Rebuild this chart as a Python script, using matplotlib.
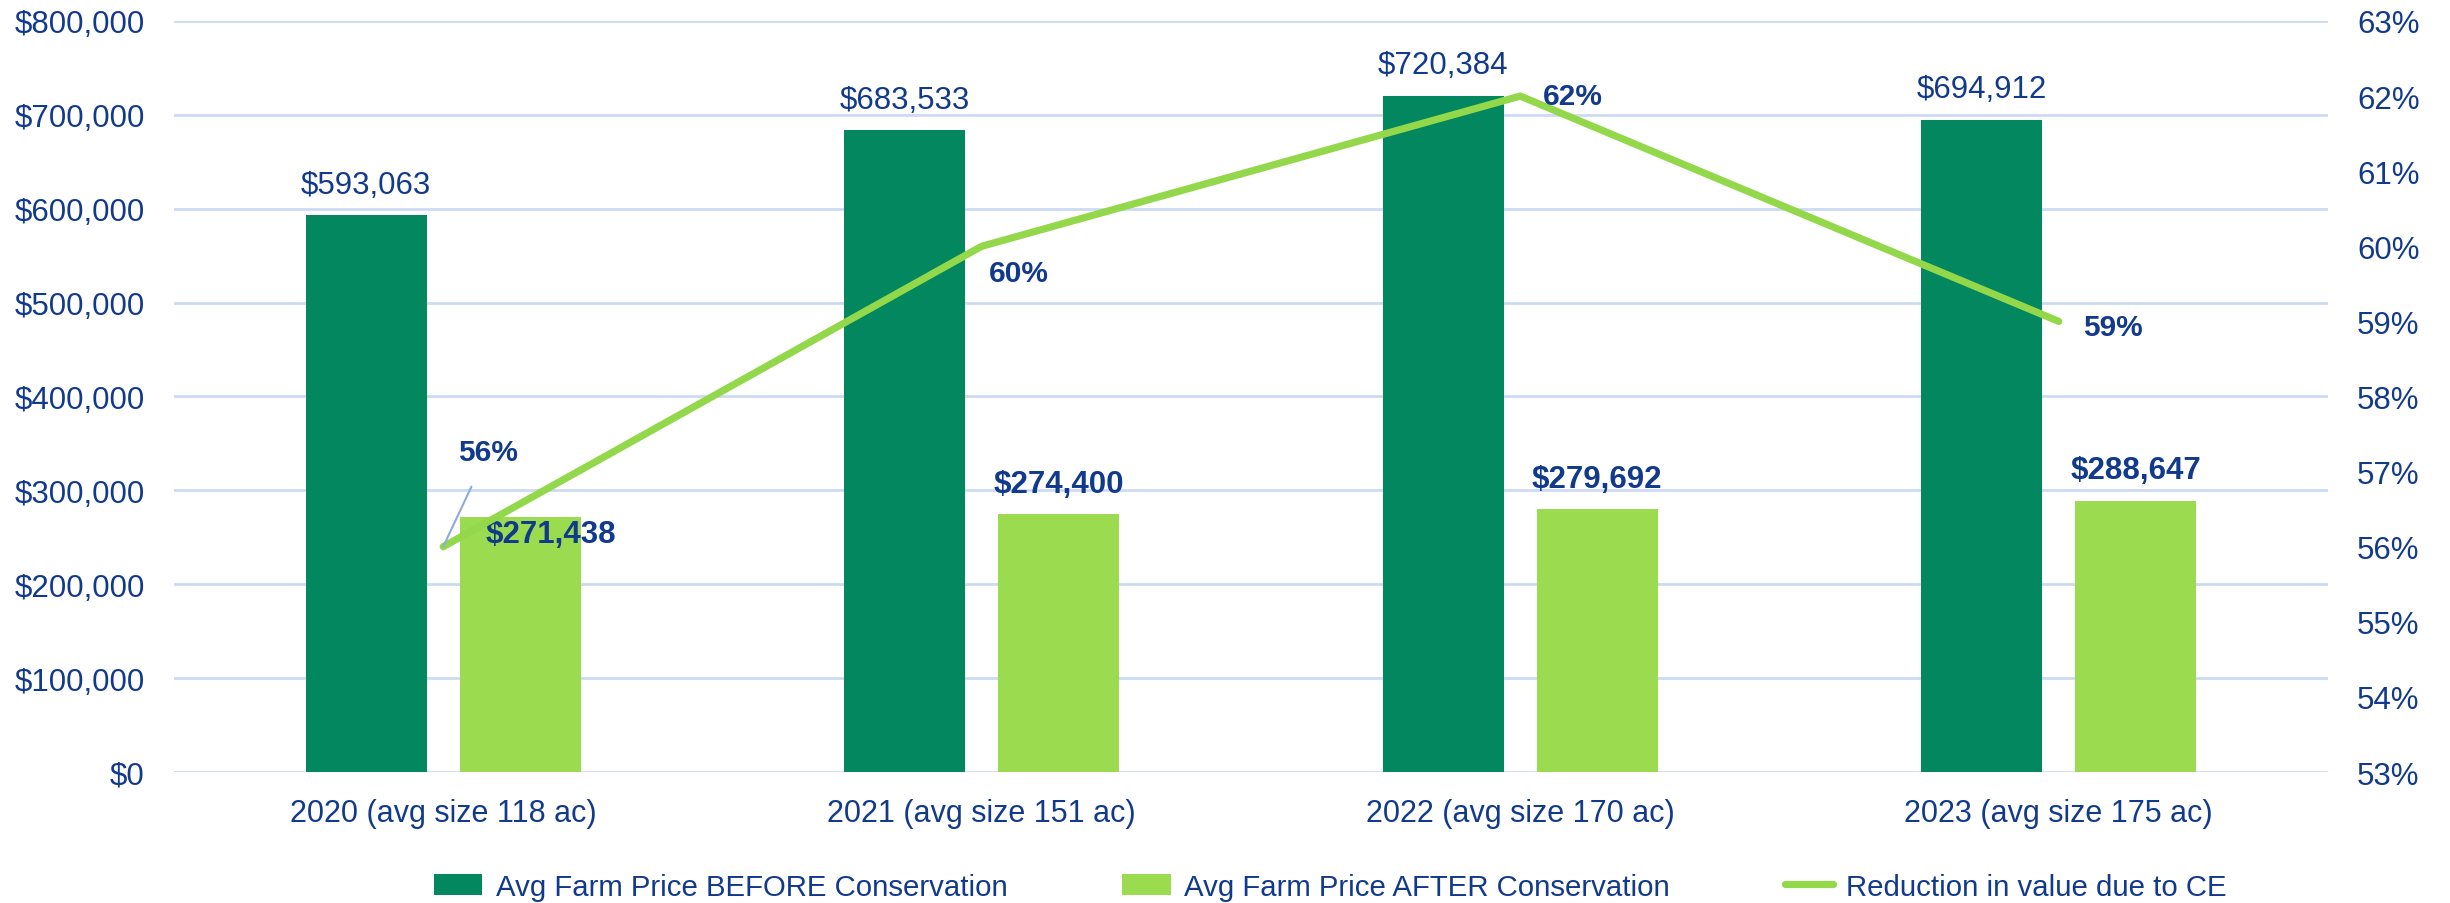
import matplotlib
matplotlib.use("Agg")
import matplotlib.pyplot as plt
from matplotlib import font_manager
from matplotlib.ticker import FuncFormatter, MultipleLocator
import numpy as np

# data
categories = ["2020 (avg size 118 ac)", "2021 (avg size 151 ac)",
              "2022 (avg size 170 ac)", "2023 (avg size 175 ac)"]
before = [593063, 683533, 720384, 694912]
after = [271438, 274400, 279692, 288647]
reduction = [56, 60, 62, 59]

DARK = "#03875E"
LIGHT = "#9BDB4F"
LINE = "#92D84A"
TXT = "#123A8C"
GRID = "#CCDAF3"

names = {f.name for f in font_manager.fontManager.ttflist}
narrow = "Liberation Sans Narrow" if "Liberation Sans Narrow" in names else "Liberation Sans"
plt.rcParams["font.family"] = ["Liberation Sans", "DejaVu Sans"]

fig = plt.figure(figsize=(24.5, 9.04), dpi=100)
ax = fig.add_axes([0.0710, 0.1449, 0.8792, 0.8308])
ax2 = ax.twinx()

x = np.arange(len(categories))
w = 0.225
off = 0.143
b1 = ax.bar(x - off, before, w, color=DARK, zorder=3, label="Avg Farm Price BEFORE Conservation")
b2 = ax.bar(x + off, after, w, color=LIGHT, zorder=3, label="Avg Farm Price AFTER Conservation")

ax.set_xlim(-0.5, 3.5)
ax.set_ylim(0, 800000)
ax.yaxis.set_major_locator(MultipleLocator(100000))
ax.yaxis.set_major_formatter(FuncFormatter(lambda v, p: f"${v:,.0f}"))
ax.grid(axis="y", color=GRID, linewidth=2, zorder=0)
ax.set_axisbelow(True)
ax.set_xticks(x)
ax.set_xticklabels(categories, fontfamily=narrow)
ax.tick_params(axis="y", length=0, pad=21, labelsize=22.5, labelcolor=TXT)
ax.tick_params(axis="x", length=0, pad=19, labelsize=22, labelcolor=TXT)

ax2.set_ylim(53, 63)
ax2.yaxis.set_major_locator(MultipleLocator(1))
ax2.yaxis.set_major_formatter(FuncFormatter(lambda v, p: f"{v:.0f}%"))
ax2.tick_params(axis="y", length=0, pad=21, labelsize=22.5, labelcolor=TXT)
ln, = ax2.plot(x, reduction, color=LINE, linewidth=5.2, zorder=4,
               label="Reduction in value due to CE", solid_capstyle="round")

for a in (ax, ax2):
    for s in a.spines.values():
        s.set_visible(False)

# bar labels
for xi, v in zip(x, before):
    ax.annotate(f"${v:,}", (xi - off, v), xytext=(0, 22), textcoords="offset points",
                ha="center", va="center", fontsize=22.5, color=TXT, zorder=5)
after_offsets = [(22, -12), (0, 22), (0, 22), (0, 22)]
for xi, v, o in zip(x, after, after_offsets):
    ax.annotate(f"${v:,}", (xi + off, v), xytext=o, textcoords="offset points",
                ha="center", va="center", fontsize=22.5, color=TXT,
                fontweight="bold", zorder=6)

# line labels
pct_offsets = [(32, 68), (27, -19), (38, 0), (39, -4)]
for i, (xi, v, o) in enumerate(zip(x, reduction, pct_offsets)):
    kw = {}
    if i == 0:
        kw["arrowprops"] = dict(arrowstyle="-", color="#8FAADC", lw=1.5,
                                shrinkA=14, shrinkB=0)
    ax2.annotate(f"{v}%", (xi, v), xytext=o, textcoords="offset points",
                 ha="center", va="center", fontsize=21.5, color=TXT,
                 fontweight="bold", zorder=7, **kw)

leg = fig.legend(handles=[b1, b2, ln], loc="center", bbox_to_anchor=(0.543, 0.018),
                 ncol=3, frameon=False, prop={"family": narrow, "size": 21.2},
                 handlelength=1.65, handleheight=0.75, columnspacing=3.9, handletextpad=0.45)
for t in leg.get_texts():
    t.set_color(TXT)

fig.savefig("out.png", dpi=100)
